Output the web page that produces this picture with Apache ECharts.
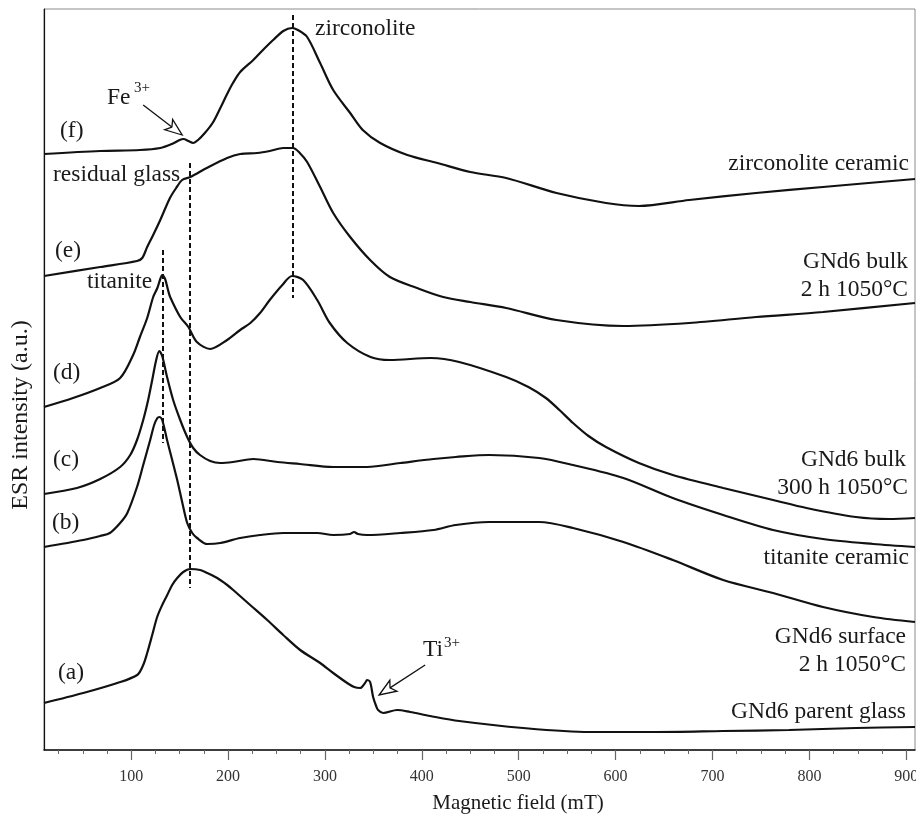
<!DOCTYPE html>
<html>
<head>
<meta charset="utf-8">
<title>ESR spectra</title>
<script src="https://cdn.jsdelivr.net/npm/echarts@6/dist/echarts.min.js"></script>
<style>
  html, body { margin: 0; padding: 0; background: #fff; }
  #chart { width: 916px; height: 815px; }
</style>
</head>
<body>
<div id="chart"></div>
<script>
// ESR spectra, [magnetic field (mT), intensity (a.u., stacked offsets)]
const curveA = [[10,47],[50.5,57],[85.6,67],[106.2,75],[112.4,85],[116.5,97],[121.7,115],[126.8,133],[132,145],[137.2,155],[142.3,165],[147.5,172],[153.7,178],[160.9,181],[171.2,180],[178.4,177],[188.8,172],[199.1,165],[205.3,160],[222.8,145],[240.4,130],[256.9,115],[274.4,100],[295,87],[308.5,77],[322.9,67],[330.1,63],[336.3,62],[341.4,67],[343.5,70],[346.6,68],[349.7,53],[352.8,44],[354.8,40],[360,37],[374.5,40],[387.9,38],[408.6,34],[438.5,29],[504.5,22],[572.7,18],[641.8,18],[710.9,19],[779,20],[848.2,22],[909,23]];

const curveB = [[10,203],[50.5,210],[68,214],[78,217],[88.6,227],[96,237],[106,263],[112.4,285],[119.6,310],[123.7,325],[127,332],[129,333],[132,330],[137,310],[142.3,290],[147.5,270],[152.6,248],[157.8,227],[163,217],[168,212],[178.4,206],[192,207],[212.5,212],[233,215],[257,217],[292,217],[308.5,215],[326,216],[330,218],[334,216],[343.5,215],[377.6,217],[412,220],[435,225],[469.5,228],[521,228],[556,222],[608,208],[659,190],[711,170],[762.5,157],[814,143],[866,133],[909,128]];

const curveC = [[10,256],[44,262],[68,271],[88.6,283],[99,295],[106,310],[112.4,330],[117.5,350],[121.7,370],[125.8,390],[129,399],[132,394],[137,373],[143.3,350],[150.6,330],[157.8,313],[164,302],[171,295],[181.5,289],[192,287],[205,288],[226,291],[251,288],[274,286],[308.5,283],[343.5,283],[377.6,287],[412,291],[435,293],[469.5,295],[521,292],[556,285],[608,272],[659,252],[711,235],[762.5,220],[814,211],[866,206],[909,203]];

const curveD = [[10,343],[40,352],[68,362],[88.6,372],[102,395],[109,413],[116.5,432],[122.7,453],[127,462],[130,471],[132,475],[135,471],[138,460],[140.2,453],[150.6,433],[159,423],[167.8,408],[181.5,401],[199,410],[212.5,420],[223,427],[233,437],[243,450],[256,465],[266,474],[277.5,470],[292,450],[305,427],[323,407],[347,393],[367,390],[409,392],[438.5,388],[487,373],[510,363],[528,352],[542,340],[556,327],[572,314],[590,303],[624,287],[659,275],[711,262],[762.5,250],[797,242],[848,233],[882,231],[909,232]];

const curveE = [[10,474],[68,483],[106,489],[111.4,492],[116.5,503],[122.7,515],[130,530],[140,552],[146.4,562],[152.6,570],[161,573],[178,582],[199,592],[212.5,596],[230,597],[243,599],[257,602],[267,602],[274,597],[281.6,588],[295,563],[308.5,537],[326,513],[346.6,490],[367,473],[395,462],[422,453],[450,448],[487,442],[539,430],[608,424],[676,427],[745,433],[814,438],[909,447]];

const curveF = [[10,596],[68,599],[109,600],[130,602],[142,606],[150,610],[154,611],[159,609],[164,607],[169,610],[176,617],[184,627],[192,642],[199,656],[205,667],[212.5,678],[226,690],[238,702],[246.5,710],[257,719],[266,722],[272,720],[281.6,713],[295,687],[308.5,660],[326,637],[339,620],[357,607],[385,595],[416,587],[450,578],[487,572],[539,557],[590,547],[624,544],[676,550],[745,557],[814,563],[909,571]];

// Reference field positions (dashed guides): [field, from, to]
const guideLines = [[267,735,452],[160.5,587,162],[132.7,500,307]];

// Axis ticks
const majorTicks = [100,200,300,400,500,600,700,800,900];
const minorTicks = [25,50,75,125,150,175,225,250,275,325,350,375,425,450,475,525,550,575,625,650,675,725,750,775,825,850,875];

const fieldMin = 10, fieldMax = 909;
const SERIF = '"Liberation Serif", "Times New Roman", serif';
const INK = '#111';

const chart = echarts.init(document.getElementById('chart'), null, { renderer: 'canvas' });

function curveSeries(name, data) {
  return {
    name: name, type: 'line', data: data, xAxisIndex: 0, yAxisIndex: 0,
    showSymbol: false, smooth: 0.3, silent: true,
    lineStyle: { color: INK, width: 2.2 }
  };
}

const series = [
  curveSeries('a', curveA),
  curveSeries('b', curveB),
  curveSeries('c', curveC),
  curveSeries('d', curveD),
  curveSeries('e', curveE),
  curveSeries('f', curveF)
];
series[0].markLine = {
  silent: true, symbol: ['none', 'none'], label: { show: false },
  lineStyle: { color: INK, width: 2, type: [5, 3] },
  data: guideLines.map(g => [{ coord: [g[0], g[1]] }, { coord: [g[0], g[2]] }])
};

chart.setOption({
  animation: false,
  backgroundColor: '#fff',
  grid: {
    left: 44, right: 1, top: 9, bottom: 65, containLabel: false, outerBoundsMode: 'none',
    show: true, borderColor: '#8a8a8a', borderWidth: 1
  },
  xAxis: [{
    type: 'value', min: fieldMin, max: fieldMax, position: 'bottom',
    axisLine: { show: true, lineStyle: { color: '#111', width: 1.5 } },
    axisTick: { show: true, customValues: majorTicks, length: 10, lineStyle: { color: '#666', width: 1.2 } },
    axisLabel: { show: true, customValues: majorTicks, margin: 19, fontFamily: SERIF, fontSize: 16, color: '#333' },
    splitLine: { show: false }
  }, {
    type: 'value', min: fieldMin, max: fieldMax, position: 'bottom',
    axisLine: { show: false },
    axisTick: { show: true, customValues: minorTicks, length: 4, lineStyle: { color: '#666', width: 1 } },
    axisLabel: { show: false },
    splitLine: { show: false }
  }],
  yAxis: {
    type: 'value', min: 0, max: 741,
    axisLine: { show: true, lineStyle: { color: '#111', width: 1.2 } },
    axisTick: { show: false }, axisLabel: { show: false }, splitLine: { show: false }
  },
  series: series
});

// Text annotations
function txt(text, x, baseline, size, align) {
  return {
    type: 'text', silent: true, z: 100,
    style: {
      text: text, x: x, y: baseline - 0.34 * size,
      font: size + 'px ' + SERIF, fill: '#1a1a1a',
      align: align || 'left', verticalAlign: 'middle'
    }
  };
}

const LS = 23.5;
const labels = [
  txt('zirconolite', 315, 37, LS),
  txt('Fe', 107, 106, LS), txt('3+', 134, 93, 15),
  txt('(f)', 60, 139, LS),
  txt('residual glass', 53, 183, LS),
  txt('(e)', 55, 259, LS),
  txt('titanite', 87, 290, LS),
  txt('(d)', 53, 381, LS),
  txt('(c)', 53, 468, LS),
  txt('(b)', 52, 531, LS),
  txt('(a)', 58, 681, LS),
  txt('Ti', 423, 658, LS), txt('3+', 444, 648, 15),
  txt('zirconolite ceramic', 909, 172, LS, 'right'),
  txt('GNd6 bulk', 908, 270, LS, 'right'),
  txt('2 h 1050°C', 908, 298, LS, 'right'),
  txt('GNd6 bulk', 906, 468, LS, 'right'),
  txt('300 h 1050°C', 908, 496, LS, 'right'),
  txt('titanite ceramic', 909, 566, LS, 'right'),
  txt('GNd6 surface', 906, 645, LS, 'right'),
  txt('2 h 1050°C', 906, 673, LS, 'right'),
  txt('GNd6 parent glass', 906, 720, LS, 'right'),
  txt('Magnetic field (mT)', 518, 811, 21, 'center'),
  {
    type: 'text', silent: true, z: 100, x: 21, y: 415, rotation: Math.PI / 2,
    style: { text: 'ESR intensity (a.u.)', x: 0, y: 0, font: '24px ' + SERIF, fill: '#1a1a1a', align: 'center', verticalAlign: 'middle' }
  }
];

// Open-headed pointer arrows, anchored in field/intensity space
const arrowDefs = [
  { from: [112.4, 645], to: [152.6, 615] },   // Fe3+ feature
  { from: [403.4, 85], to: [355.9, 55] }      // Ti3+ feature
];

function arrow(p0, p1) {
  const dx = p1[0] - p0[0], dy = p1[1] - p0[1];
  const len = Math.hypot(dx, dy);
  const ux = dx / len, uy = dy / len, nx = -uy, ny = ux;
  const L = 17, W = 6.5, notch = 4;
  const bx = p1[0] - ux * L, by = p1[1] - uy * L;
  return [
    { type: 'line', silent: true, z: 100, shape: { x1: p0[0], y1: p0[1], x2: bx + ux * notch, y2: by + uy * notch },
      style: { stroke: '#111', lineWidth: 1.3 } },
    { type: 'polygon', silent: true, z: 101,
      shape: { points: [[p1[0], p1[1]], [bx + nx * W, by + ny * W], [bx + ux * notch, by + uy * notch], [bx - nx * W, by - ny * W]] },
      style: { fill: '#fff', stroke: '#111', lineWidth: 1.3 } }
  ];
}

let arrows = [];
arrowDefs.forEach(a => {
  const p0 = chart.convertToPixel({ xAxisIndex: 0, yAxisIndex: 0 }, a.from);
  const p1 = chart.convertToPixel({ xAxisIndex: 0, yAxisIndex: 0 }, a.to);
  arrows = arrows.concat(arrow(p0, p1));
});

chart.setOption({ graphic: labels.concat(arrows) });
</script>
</body>
</html>
